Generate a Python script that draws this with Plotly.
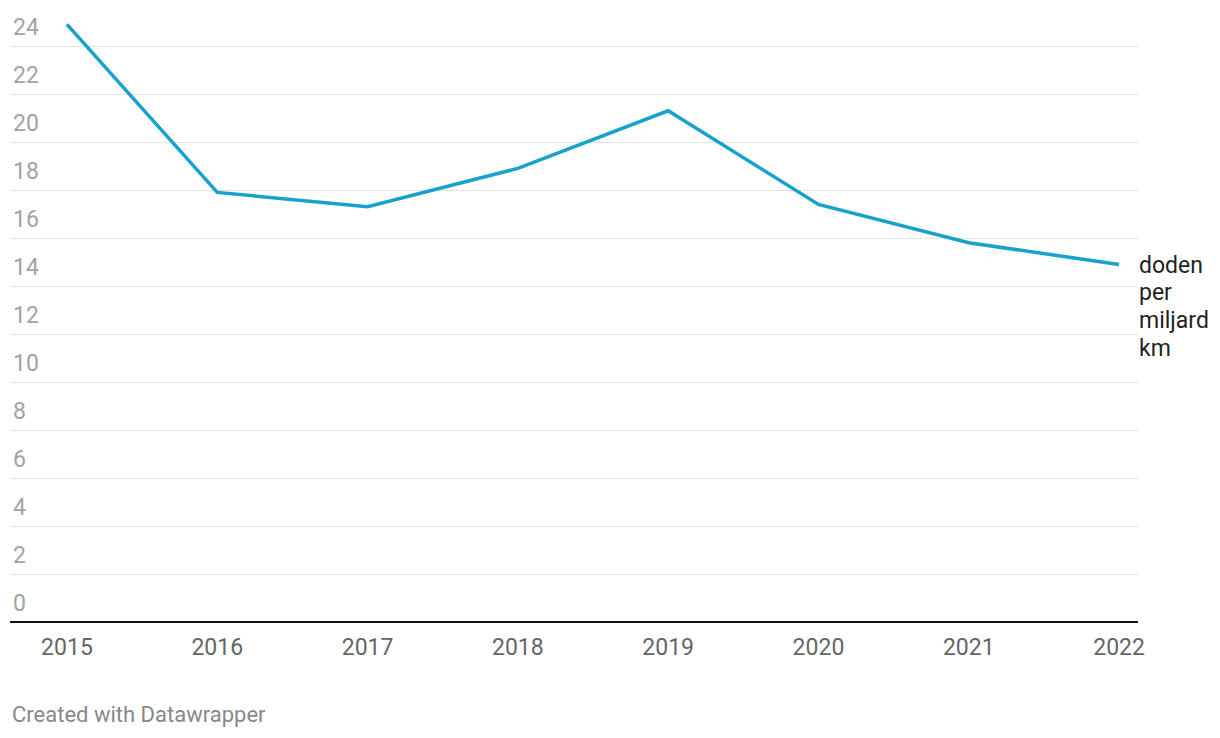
import plotly.graph_objects as go

years = [2015, 2016, 2017, 2018, 2019, 2020, 2021, 2022]
deaths = [24.9, 17.9, 17.3, 18.9, 21.3, 17.4, 15.8, 14.9]
y_ticks = [0, 2, 4, 6, 8, 10, 12, 14, 16, 18, 20, 22, 24]
series_label_lines = ["doden", "per", "miljard", "km"]
footer = "Created with Datawrapper"

# page body has an 8px margin
OFF = 8
W, H = 1220 - 2 * OFF, 738 - 2 * OFF
ml, mt = 10 - OFF, 10 - OFF
mr = W - (1138 - OFF)
mb = H - (622 - OFF)
plot_h = H - mt - mb

fig = go.Figure()
fig.add_trace(go.Scatter(
    x=years, y=deaths, mode="lines",
    line=dict(color="#18a1cd", width=3.5),
    hoverinfo="x+y", showlegend=False,
))

fig.update_layout(
    width=W, height=H,
    margin=dict(l=ml, r=mr, t=mt, b=mb),
    paper_bgcolor="white", plot_bgcolor="white",
    font=dict(family="Roboto", size=23, color="#333333"),
    xaxis=dict(
        range=[2014.621, 2022.126],
        tickvals=years, ticktext=[str(y) for y in years],
        showgrid=False, zeroline=False, showline=False,
        ticks="", tickfont=dict(size=23, color="#666666"),
        ticklabelstandoff=9,
        fixedrange=True,
    ),
    yaxis=dict(
        range=[0, plot_h / 24.0],
        tickvals=y_ticks, ticktext=[str(v) for v in y_ticks],
        ticklabelposition="inside top",
        ticklabelshift=-3,
        showgrid=True, gridcolor="#e3e3e3", gridwidth=1,
        zeroline=True, zerolinecolor="#111111", zerolinewidth=2,
        showline=False, ticks="",
        tickfont=dict(size=23, color="#a3a3a3"),
        fixedrange=True,
    ),
)

for i, word in enumerate(series_label_lines):
    fig.add_annotation(
        x=1, xref="paper", xshift=-1, xanchor="left",
        y=(622 - (265 + 27.7 * i)) / plot_h, yref="paper", yanchor="middle",
        text=word, showarrow=False, align="left",
        font=dict(size=23, color="#222222"),
    )
fig.add_annotation(
    x=0, xref="paper", xanchor="left",
    y=(622 - 715) / plot_h, yref="paper", yanchor="middle",
    text=footer, showarrow=False,
    font=dict(size=22, color="#888888"),
)

fig.write_html("out.html")
